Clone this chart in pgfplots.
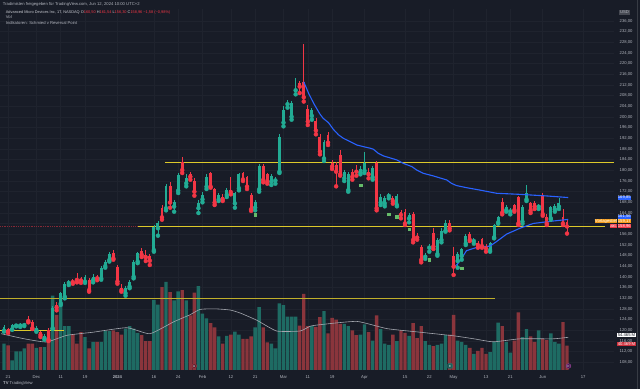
\documentclass[border=0pt]{standalone}
\usepackage{pgfplots}
\usepackage{pgfplotstable}
\pgfplotsset{compat=1.18}
\usepackage{fontspec}
\setmainfont{Liberation Sans}
\definecolor{bgc}{HTML}{181C27}
\definecolor{gridc}{HTML}{1F232E}
\definecolor{textc}{HTML}{B2B5BE}
\definecolor{upc}{HTML}{22AB94}
\definecolor{dnc}{HTML}{F23645}
\definecolor{volu}{HTML}{1E6B63}
\definecolor{vold}{HTML}{8A353C}
\definecolor{vwap}{HTML}{2962FF}
\definecolor{yel}{HTML}{DCC82A}
\definecolor{mac}{HTML}{A3A6AE}
\definecolor{dotc}{HTML}{66BB6A}
\definecolor{orc}{HTML}{F59C1A}
\newcommand{\fs}{\fontsize{4.2}{5}\selectfont}

\pgfplotstableread{
i o h l c v
0 119.9 122.0 119.5 121.4 44
2 120.4 122.3 120.2 122.0 16
3 121.8 122.5 121.5 122.2 31
4 121.8 122.7 121.3 122.4 31
5 122.0 122.6 121.6 122.2 36
8 120.0 121.5 119.5 120.8 37
10 117.0 118.5 116.5 118.0 38
12 120.8 129.0 120.5 128.3 124
14 130.1 134.5 129.5 133.9 122
15 132.6 138.0 132.0 137.3 73
16 137.8 139.0 137.0 138.0 73
20 138.3 140.8 137.8 139.9 55
22 138.9 141.0 138.0 140.1 47
24 139.5 144.0 139.0 143.3 47
25 144.1 146.5 143.5 145.8 65
26 146.4 149.2 145.8 148.6 65
30 133.9 136.5 133.0 135.8 69
31 136.4 138.8 135.8 138.3 73
32 140.1 146.5 139.5 145.8 69
33 145.8 149.5 145.2 148.9 62
37 150.1 159.5 149.5 158.9 117
38 158.3 161.0 155.5 160.1 109
40 165.8 175.0 165.0 174.1 147
42 166.4 169.0 164.5 168.3 116
43 172.4 179.0 171.5 178.3 131
45 175.1 178.5 174.0 177.0 116
48 165.8 169.0 164.0 167.6 140
49 169.1 172.0 168.0 170.8 94
50 173.9 178.5 173.0 177.6 86
53 169.1 171.5 168.5 170.8 56
55 170.8 173.5 170.0 172.6 57
57 167.6 172.0 166.0 171.4 64
58 173.3 179.0 172.5 178.5 59
62 166.0 169.0 165.0 168.0 71
63 172.9 182.5 172.0 181.6 105
66 175.8 178.5 174.5 177.9 44
67 176.2 177.5 175.0 176.6 36
68 179.5 193.5 179.0 192.4 111
69 197.9 204.0 196.5 202.6 108
70 204.8 206.5 203.5 205.4 89
71 200.1 206.0 199.0 205.1 89
72 210.0 214.5 208.5 210.6 89
76 200.4 203.5 199.0 202.6 73
79 184.5 191.5 183.5 190.8 98
84 177.0 180.0 176.0 179.5 77
85 172.6 179.5 172.0 178.6 73
88 179.2 181.5 178.5 180.4 59
89 179.9 187.0 179.0 182.9 76
91 177.4 181.5 176.5 180.8 49
93 167.9 171.0 167.0 170.1 68
94 167.6 170.5 166.5 169.5 44
95 170.4 171.5 169.5 170.8 42
97 167.0 171.0 166.5 170.4 48
100 162.0 164.0 160.5 163.3 57
104 147.6 149.0 146.8 148.3 48
105 151.0 152.5 149.5 151.4 42
107 148.6 154.5 148.0 153.9 42
108 153.9 158.5 153.0 157.4 44
109 157.4 161.5 157.0 160.4 58
112 146.0 149.5 143.5 148.5 49
113 147.9 151.0 146.5 150.4 47
114 152.6 156.0 152.0 155.4 42
116 153.5 154.5 152.5 153.8 27
120 150.1 153.0 149.5 152.6 30
121 154.9 160.0 154.5 159.5 47
122 160.5 163.0 160.0 162.4 79
124 165.1 167.0 164.5 166.4 47
125 164.6 166.0 163.5 164.9 29
128 160.8 167.0 160.0 166.4 55
129 169.1 174.5 168.5 171.4 68
132 166.4 167.5 165.5 166.7 66
135 162.0 166.5 161.5 166.1 61
136 165.4 167.5 164.5 166.6 47
137 166.4 169.5 165.5 167.9 44
}\up

\pgfplotstableread{
i o h l c v
1 120.5 121.0 119.0 119.6 41
6 124.0 125.4 123.0 123.5 44
7 123.3 124.0 120.5 120.8 44
9 119.3 119.8 117.5 118.3 38
11 120.1 121.0 116.0 116.4 63
13 129.5 130.5 127.5 128.6 92
17 138.6 139.3 137.5 138.1 60
18 139.3 141.5 138.0 138.9 44
19 139.1 140.0 137.8 138.7 63
21 138.9 139.5 134.5 135.1 36
23 140.1 140.8 138.8 139.5 47
27 149.1 150.0 146.5 147.0 66
28 143.9 144.5 137.5 138.3 63
29 135.8 137.5 134.5 135.1 59
34 149.9 151.0 147.5 148.3 58
35 148.3 150.0 146.0 147.4 48
36 147.9 148.6 144.5 146.1 48
39 166.0 167.0 161.5 162.4 138
41 174.1 175.5 166.0 167.9 130
44 183.3 184.9 179.0 180.1 133
46 178.6 179.5 176.5 177.6 91
47 176.1 177.0 170.5 172.0 129
51 178.9 179.5 173.5 173.9 78
52 172.9 173.5 167.0 167.9 71
54 170.1 171.0 168.5 169.1 44
56 172.6 177.5 171.0 171.8 59
59 178.9 179.5 176.0 176.6 52
60 177.4 178.0 173.0 173.9 52
61 170.8 171.5 164.8 165.4 56
64 181.6 182.5 175.5 176.4 71
65 178.5 179.0 175.0 175.8 46
73 212.6 213.5 209.0 211.4 74
74 213.3 227.4 205.8 207.4 127
75 202.9 204.5 197.0 198.3 73
77 198.5 199.5 193.5 194.9 72
78 192.6 193.5 186.0 187.0 88
80 193.3 194.5 189.5 190.4 61
81 182.9 184.0 180.5 181.4 87
82 182.0 183.0 174.0 179.5 84
83 185.8 187.5 178.0 178.5 77
86 179.5 180.5 176.5 177.6 66
87 180.0 182.0 178.0 179.5 58
90 179.5 181.0 177.0 178.5 63
92 182.6 183.5 165.0 165.8 91
96 169.5 170.5 167.5 168.5 59
98 164.3 165.0 162.0 163.3 66
99 164.3 165.5 159.5 160.1 62
101 163.6 164.5 153.0 153.9 78
102 155.4 156.5 154.0 154.8 53
103 151.4 152.0 145.5 146.4 73
106 156.4 158.5 150.5 151.4 40
110 160.4 161.5 157.5 158.3 59
111 147.9 151.1 140.8 143.9 92
115 156.1 157.0 153.5 153.9 37
117 152.9 153.5 151.0 152.0 32
118 154.1 154.8 151.0 151.6 37
119 151.6 152.5 149.5 150.8 27
123 168.3 169.5 163.5 164.1 73
126 167.0 167.5 164.5 165.1 49
127 170.1 170.5 159.5 160.1 96
130 167.6 168.0 164.0 164.9 56
131 167.9 168.5 165.5 166.4 47
133 170.8 171.5 163.0 163.6 52
134 162.6 163.5 159.5 160.1 50
138 162.4 165.5 159.5 160.1 80
139 160.5 161.54 156.3 158.96 40.5
}\dn

\begin{document}
\begin{tikzpicture}[x=1bp,y=1bp]
\useasboundingbox (0bp,0bp) rectangle (640bp,389bp);
\fill[bgc] (0bp,0bp) rectangle (640bp,389bp);
\draw[gridc!80!white!60!bgc, line width=0.6bp] (637.5bp,0bp) -- (637.5bp,389bp);

% grid + tick labels
\begin{axis}[at={(0bp,19bp)}, anchor=south west, scale only axis,
  width=614bp, height=361bp,
  xmin=-0.99, xmax=150.6, ymin=105.14, ymax=240.5,
  axis line style={draw=none}, major tick length=0pt, tick style={draw=none},
  grid=major, major grid style={draw=gridc, line width=0.5bp},
  ytick={108,112,116,120,124,128,132,136,140,144,148,152,156,164,168,172,176,180,184,188,192,196,200,204,208,212,216,220,224,228,232,236},
  extra y ticks={160}, extra y tick labels={},
  extra y tick style={grid=major, major grid style={draw=gridc, line width=0.5bp}},
  yticklabel pos=right,
  yticklabel style={font=\fs, text=textc, xshift=2.2bp,
    /pgf/number format/.cd, fixed, fixed zerofill, precision=2, use comma, assume math mode=true},
  xtick={1,8,14,20,28,37,43,49,56,62,69,75,81,89,99,105,111,119,125,133,143},
  xticklabels={21,Dec,11,19,\textbf{2024},16,24,Feb,12,21,Mar,11,19,Apr,15,22,May,13,21,Jun,17},
  xticklabel style={font=\fs, text=textc, yshift=-1.8bp},
]
\addplot[draw=none] coordinates {(0,150)};
\end{axis}

% volume
\begin{axis}[at={(0bp,19bp)}, anchor=south west, scale only axis,
  width=614bp, height=361bp,
  xmin=-0.99, xmax=150.6, ymin=0, ymax=601.7, hide axis]
\addplot[ybar, bar width=3.4bp, bar shift=0pt, fill=volu, draw=none] table[x=i,y=v]{\up};
\addplot[ybar, bar width=3.4bp, bar shift=0pt, fill=vold, draw=none] table[x=i,y=v]{\dn};
\addplot[mac, line width=0.6bp, smooth, tension=0.3] coordinates {
(-0.7,60.5) (5,52) (10.5,46.7) (15.5,57.8) (22,63) (30.3,70.5) (36,60.5) (41.8,80)
(45.9,92) (48.4,101) (52,102) (55.8,100) (58.3,95) (62.4,83) (67.3,65) (73.1,65)
(75.6,73) (78,75.5) (87.1,81) (94.5,69) (102.7,63) (111,57) (116,52) (120.8,47)
(127.4,52) (135.6,52) (139.3,54.5)};
\end{axis}

% price
\begin{axis}[at={(0bp,19bp)}, anchor=south west, scale only axis,
  width=614bp, height=361bp,
  xmin=-0.99, xmax=150.6, ymin=105.14, ymax=240.5, hide axis]
% horizontal levels
\addplot[color=yel, line width=1bp] coordinates {(39.8,183.0) (150.6,183.0)};
\addplot[color=yel, line width=1bp] coordinates {(32.8,158.8) (148.4,158.8)};
\addplot[color=dnc!50!bgc, line width=0.8bp, densely dotted] coordinates {(-0.99,158.8) (32.8,158.8)};
\addplot[color=yel!85!bgc, line width=1bp] coordinates {(-0.99,132.1) (121.2,132.1)};
\addplot[color=yel, line width=1bp] coordinates {(-0.99,120.1) (14.8,120.1)};
% wicks
\addplot[color=upc, only marks, mark=none, error bars/.cd, y dir=plus, y explicit, error mark=none,
  error bar style={color=upc, line width=0.75bp}]
  table[x=i, y=l, y error expr=\thisrow{h}-\thisrow{l}] {\up};
\addplot[color=dnc, only marks, mark=none, error bars/.cd, y dir=plus, y explicit, error mark=none,
  error bar style={color=dnc, line width=0.75bp}]
  table[x=i, y=l, y error expr=\thisrow{h}-\thisrow{l}] {\dn};
% bodies
\addplot[color=upc, only marks, mark=none, error bars/.cd, y dir=plus, y explicit, error mark=none,
  error bar style={color=upc, line width=2.9bp}]
  table[x=i, y=o, y error expr={max(\thisrow{c}-\thisrow{o},0.4)}] {\up};
\addplot[color=dnc, only marks, mark=none, error bars/.cd, y dir=plus, y explicit, error mark=none,
  error bar style={color=dnc, line width=2.9bp}]
  table[x=i, y=c, y error expr={max(\thisrow{o}-\thisrow{c},0.4)}] {\dn};
% anchored VWAPs
\addplot[color=vwap, line width=1.1bp] coordinates {
(74,213.2) (75.2,208.9) (76.5,205.0) (78,201.1) (78.8,199.5) (80.1,197.9) (81.3,195.4)
(82.6,193.3) (83.8,192.0) (85.4,190.8) (87.1,189.5) (88.7,188.9) (90.4,188.3)
(91.2,187.9) (92.4,186.4) (93.7,185.4) (95.7,184.5) (97,183.9) (98.6,182.6)
(100.7,181.4) (101.9,180.1) (103.5,178.9) (106,177.9) (109.3,176.4) (110.5,175.1)
(111.7,174.3) (114.2,173.5) (117.5,172.6) (121.6,171.4) (127.4,171.0) (134,170.4) (139.3,169.8)};
\addplot[color=vwap, line width=1.1bp] coordinates {
(111.3,143.9) (112.2,145.3) (114.2,149.9) (116.7,151.1) (120,151.6) (121.6,153.3)
(124.1,156.1) (127.4,158.3) (130.7,160.1) (135.6,161.0) (139.3,161.6)};
% reversal points
\addplot[only marks, mark=square*, mark size=1.3bp, color=dotc] coordinates {
(62,163.4) (88,174.5) (95,163.5) (97,162.6) (100,157.9) (105,146.6) (113,143.3)};
\end{axis}

% header
\node[anchor=west, inner sep=0, text=textc, font=\fs] at (2.7bp,384.6bp)
  {Tradimisten freigegeben für TradingView.com, Jun 12, 2024 10:00 UTC+2};
\node[anchor=west, inner sep=0, text=textc!70!white, font=\fontsize{3.9}{5}\selectfont] at (5.7bp,376.4bp)
  {Advanced Micro Devices Inc, 1T, NASDAQ O\textcolor{dnc}{160,50} H\textcolor{dnc}{161,54} L\textcolor{dnc}{156,30} C\textcolor{dnc}{158,96} \textcolor{dnc}{−1,58 (−0,98\%)}};
\node[anchor=west, inner sep=0, text=textc, font=\fs] at (5.7bp,371.6bp) {Vol};
\node[anchor=west, inner sep=0, text=textc, font=\fs] at (5.7bp,366.3bp) {Indikatoren: Schmied v Reversal Point};
\node[anchor=center, inner sep=0.6bp, fill=bgc!80!white, text=textc, font=\fs] at (624.5bp,376.5bp) {USD};

% right-side value labels
\node[anchor=center, inner sep=0.25bp, fill=vwap, text=white, font=\fs] at (624.3bp,191.2bp) {169,85};
\node[anchor=center, inner sep=0.25bp, fill=vwap, text=white, font=\fs] at (624.3bp,172.4bp) {161,56};
\node[anchor=east, inner sep=0.25bp, fill=orc, text=white, font=\fs] at (617.5bp,168.0bp) {Vortagestief};
\node[anchor=center, inner sep=0.25bp, fill=orc, text=white, font=\fs] at (624.3bp,168.0bp) {159,17};
\node[anchor=east, inner sep=0.25bp, fill=dnc, text=white, font=\fs] at (617.5bp,163.1bp) {akt.};
\node[anchor=center, inner sep=0.25bp, fill=dnc, text=white, font=\fs] at (624.3bp,163.1bp) {158,96};
\node[anchor=center, inner sep=0.5bp, fill=white, text=bgc, font=\fs] at (626.5bp,54.2bp) {54.465 M};
\node[anchor=center, inner sep=0.5bp, fill=dnc!85!black, text=white, font=\fs] at (626.5bp,45bp) {40.469 M};

% event icons
\node[circle, inner sep=0, minimum size=4.6bp, fill=dnc!30!bgc, draw=dnc!70!bgc, line width=0.4bp,
  text=white, font=\fontsize{3}{3}\selectfont] at (194.3bp,23bp) {U};
\node[rounded corners=0.8bp, inner sep=0, minimum size=4.6bp, fill=upc!45!bgc, draw=upc!70!bgc, line width=0.4bp,
  text=white, font=\fontsize{3}{3}\selectfont] at (450bp,23bp) {E};
\node[circle, inner sep=0, minimum size=4.6bp, fill=violet!40!bgc, draw=violet!70!white, line width=0.4bp,
  text=white, font=\fontsize{3}{3}\selectfont] at (568.5bp,23bp) {D};

% logo
\node[anchor=west, inner sep=0, text=textc, font=\fs] at (3bp,6bp) {\textbf{TV}\ TradingView};
\end{tikzpicture}
\end{document}
